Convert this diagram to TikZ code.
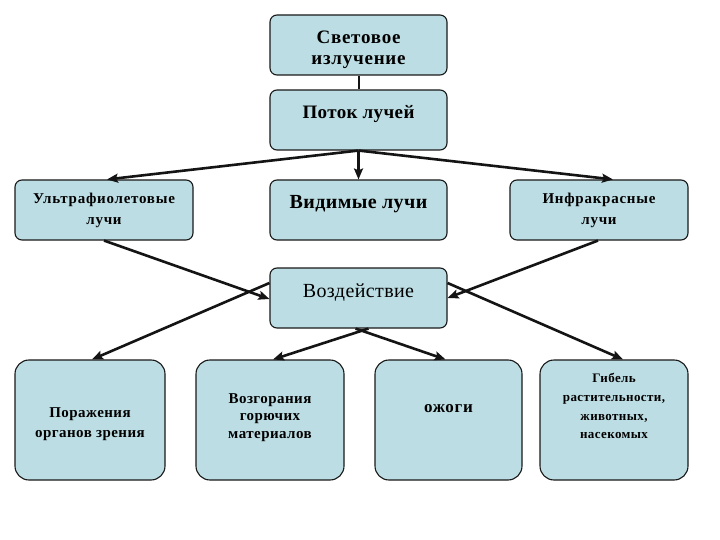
\documentclass[tikz,border=0pt]{standalone}
\usepackage{fontspec}
\setmainfont{Liberation Serif}
\usetikzlibrary{arrows.meta,calc}
\definecolor{boxfill}{RGB}{188,221,227}
\definecolor{boxline}{RGB}{25,25,25}
\newcommand{\fsz}[3]{\fontsize{#1}{#2}\selectfont\addfontfeatures{LetterSpace=#3}}
\newcommand{\topstrut}[1]{\rule{0pt}{#1}}
\tikzset{
  box/.style={draw=boxline, line width=1.1pt, fill=boxfill, rounded corners=7pt,
    align=center, inner sep=2pt, font=\bfseries},
  conn/.style={line width=2.6pt, draw=black!92},
  arr/.style={conn, -{Stealth[length=11pt,width=9pt,inset=2pt]}}
}
\begin{document}
\begin{tikzpicture}[x=1pt,y=-1pt]
\useasboundingbox (0,0) rectangle (720,540);
\fill[white] (0,0) rectangle (720,540);
% top
\node[box, minimum width=177pt, minimum height=60pt, font=\bfseries\fsz{19}{21}{4}] (b1) at (358.5,45) {\topstrut{22.5pt}Световое\\излучение};
\node[box, minimum width=177pt, minimum height=60pt, text depth=16pt, font=\bfseries\fsz{19}{21}{2}] (b2) at (358.5,120) {Поток лучей};
% middle row
\node[box, minimum width=178pt, minimum height=60pt, font=\bfseries\fsz{15}{21}{5}] (uv) at (104,210) {Ультрафиолетовые\\лучи};
\node[box, minimum width=177pt, minimum height=60pt, text depth=16pt, font=\bfseries\fsz{20}{22}{2}] (vis) at (358.5,210) {Видимые лучи};
\node[box, minimum width=178pt, minimum height=60pt, font=\bfseries\fsz{15}{21}{5}] (ir) at (599,210) {Инфракрасные\\лучи};
% effect
\node[box, minimum width=177pt, minimum height=60pt, text depth=15pt, font=\mdseries\fsz{20}{22}{2}] (voz) at (358.5,298) {Воздействие};
% bottom row
\node[box, minimum width=150pt, minimum height=120pt, rounded corners=14pt, font=\bfseries\fsz{15}{20}{3}] (p1) at (90,420) {\topstrut{18pt}Поражения\\органов зрения};
\node[box, minimum width=148pt, minimum height=120pt, rounded corners=14pt, text depth=8pt, font=\bfseries\fsz{15}{17.5}{3}] (p2) at (270,420) {Возгорания\\горючих\\материалов};
\node[box, minimum width=147pt, minimum height=120pt, rounded corners=14pt, text depth=24pt, font=\bfseries\fsz{17}{18}{4}] (p3) at (448.5,420) {ожоги};
\node[box, minimum width=148pt, minimum height=120pt, rounded corners=14pt, text depth=28pt, font=\bfseries\fsz{13}{18.7}{3}] (p4) at (614,420) {Гибель\\растительности,\\животных,\\насекомых};
% connectors
\draw[conn, line width=2pt] (b1.south) -- (b2.north);
\draw[arr] (b2.south) -- ([xshift=3pt]uv.north);
\draw[arr] (b2.south) -- (vis.north);
\draw[arr] (b2.south) -- ([xshift=14pt]ir.north);
\draw[arr] (uv.south) -- ([yshift=-1pt]voz.west);
\draw[arr] ([xshift=-1pt]ir.south) -- (voz.east);
\draw[arr] ([yshift=15pt]voz.west) -- ([xshift=2pt]p1.north);
\draw[arr] ([xshift=10pt]voz.south) -- ([xshift=3pt]p2.north);
\draw[arr] ([xshift=-3pt]voz.south) -- ([xshift=-3pt]p3.north);
\draw[arr] ([yshift=15pt]voz.east) -- ([xshift=9pt]p4.north);
\end{tikzpicture}
\end{document}
